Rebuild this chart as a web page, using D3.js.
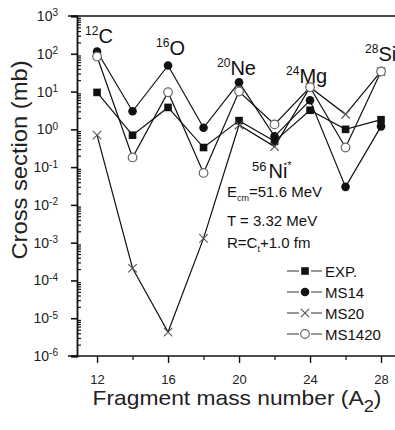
<!DOCTYPE html>
<html>
<head>
<meta charset="utf-8">
<script src="https://cdn.jsdelivr.net/npm/d3@7"></script>
<style>
  body { margin: 0; background: #fff; }
  svg { display: block; font-family: "Liberation Sans", Arial, sans-serif; }
</style>
</head>
<body>
<div id="chart"></div>
<script>
// fragment masses (A2)
const masses = [12, 14, 16, 18, 20, 22, 24, 26, 28];
// cross sections in mb
const expData = [9.5, 0.7, 3.8, 0.33, 1.7, 0.48, 3.2, 1.0, 1.8];
const ms14 = [115, 3.0, 49, 1.1, 17.5, 0.65, 5.9, 0.03, 1.2];
const ms20 = [0.7, 2.1e-4, 4.3e-6, 1.3e-3, 1.3, 0.35, 13, 2.5, 34];
const ms1420 = [85, 0.18, 9.6, 0.07, 10, 1.35, 13, 0.33, 34];

const majorX = [12, 16, 20, 24, 28];
const minorX = [14, 18, 22, 26];
const decades = [-6, -5, -4, -3, -2, -1, 0, 1, 2, 3];

const fragLabels = [
    {a: 12, sup: "12", el: "C", v: 115},
    {a: 16, sup: "16", el: "O", v: 49},
    {a: 20, sup: "20", el: "Ne", v: 17.5},
    {a: 24, sup: "24", el: "Mg", v: 13},
    {a: 28, sup: "28", el: "Si", v: 34}
];

const series = [
    {name: "EXP.", vals: expData, sym: "square"},
    {name: "MS14", vals: ms14, sym: "dot"},
    {name: "MS20", vals: ms20, sym: "cross"},
    {name: "MS1420", vals: ms1420, sym: "circle"}
];

const width = 395, height = 430;

const svg = d3.select("#chart").append("svg")
    .attr("width", width)
    .attr("height", height);

const x = d3.scaleLinear().domain([10.87, 28.9]).range([77, 397]);
const y = d3.scaleLog().domain([1e-6, 1e3]).range([356, 16]);

// marco
svg.append("line").attr("x1", 68).attr("x2", width).attr("y1", y(1e3)).attr("y2", y(1e3))
    .attr("stroke", "#111").attr("stroke-width", 1.6);
svg.append("line").attr("x1", 68).attr("x2", width).attr("y1", y(1e-6)).attr("y2", y(1e-6))
    .attr("stroke", "#111").attr("stroke-width", 1.4);

// eje Y: menores hacia dentro
const minorY = [];
decades.slice(0, -1).forEach(d => {
    for (let k = 2; k < 10; k++) minorY.push(k * Math.pow(10, d));
});
svg.append("g")
    .attr("transform", "translate(" + x(10.87) + ",0)")
    .call(d3.axisRight(y).tickValues(minorY).tickSize(4).tickFormat(""))
    .call(g => g.select(".domain").remove())
    .selectAll("line").attr("stroke", "#111").attr("stroke-width", 1.2);

const yAxis = svg.append("g")
    .attr("transform", "translate(" + x(10.87) + ",0)")
    .call(d3.axisLeft(y).tickValues(decades.map(d => Math.pow(10, d))).tickSize(6).tickPadding(5).tickFormat(""));
yAxis.select(".domain").attr("stroke", "#111").attr("stroke-width", 1.8);
yAxis.selectAll(".tick line").attr("stroke", "#111").attr("stroke-width", 1.6);
yAxis.selectAll(".tick text")
    .attr("font-size", 14).attr("fill", "#222").attr("dx", -8)
    .each(function(d) {
        const t = d3.select(this);
        t.append("tspan").text("10");
        t.append("tspan").attr("dy", "-0.45em").attr("font-size", 10).text(Math.round(Math.log10(d)));
    });

// eje X
const xAxis = svg.append("g")
    .attr("transform", "translate(0," + y(1e-6) + ")")
    .call(d3.axisBottom(x).tickValues(majorX).tickSize(7).tickPadding(12));
xAxis.select(".domain").remove();
xAxis.selectAll(".tick line").attr("stroke", "#111").attr("stroke-width", 1.4);
xAxis.selectAll(".tick text").attr("font-size", 13).attr("fill", "#222");
svg.append("g")
    .attr("transform", "translate(0," + y(1e-6) + ")")
    .call(d3.axisBottom(x).tickValues(minorX).tickSize(4).tickFormat(""))
    .call(g => g.select(".domain").remove())
    .selectAll("line").attr("stroke", "#111").attr("stroke-width", 1.2);

// titulos de ejes
svg.append("text")
    .attr("transform", "translate(27,160) rotate(-90) scale(1.08,1)")
    .attr("text-anchor", "middle")
    .attr("font-size", 22)
    .attr("fill", "#222")
    .text("Cross section (mb)");

const xt = svg.append("text")
    .attr("transform", "translate(237,405) scale(1.14,1)")
    .attr("text-anchor", "middle")
    .attr("font-size", 20)
    .attr("fill", "#222");
xt.append("tspan").text("Fragment mass number (A");
xt.append("tspan").attr("dy", 7).attr("font-size", 16).text("2");
xt.append("tspan").attr("dy", -7).text(")");

// lineas
const line = d3.line()
    .x((d, i) => x(masses[i]))
    .y(d => y(d));

svg.append("g").selectAll("path")
    .data(series)
    .join("path")
    .attr("d", d => line(d.vals))
    .attr("fill", "none")
    .attr("stroke", "#111")
    .attr("stroke-width", 1.2);

// simbolos
function drawMarker(g, sym, cx, cy) {
    if (sym === "square") {
        g.append("rect").attr("x", cx - 3.8).attr("y", cy - 3.8).attr("width", 7.6).attr("height", 7.6)
            .attr("fill", "#111");
    } else if (sym === "dot") {
        g.append("circle").attr("cx", cx).attr("cy", cy).attr("r", 4.3).attr("fill", "#111");
    } else if (sym === "circle") {
        g.append("circle").attr("cx", cx).attr("cy", cy).attr("r", 4.3)
            .attr("fill", "#fff").attr("stroke", "#666").attr("stroke-width", 1.2);
    } else {
        g.append("path")
            .attr("d", d3.symbol(d3.symbolX, 48)())
            .attr("transform", "translate(" + cx + "," + cy + ")")
            .attr("fill", "none").attr("stroke", "#555").attr("stroke-width", 1.1);
    }
}

const marks = svg.append("g");
series.forEach(s => {
    s.vals.forEach((v, i) => drawMarker(marks, s.sym, x(masses[i]), y(v)));
});

// etiquetas de fragmentos
const labOff = {12: [-12, -8], 16: [-12, -10], 20: [-22, -7], 24: [-24, -4], 28: [-16, -10]};
fragLabels.forEach(f => {
    const t = svg.append("text")
        .attr("x", x(f.a) + labOff[f.a][0])
        .attr("y", y(f.v) + labOff[f.a][1])
        .attr("font-size", 20)
        .attr("fill", "#111");
    t.append("tspan").attr("font-size", 12).attr("dy", -8).text(f.sup);
    t.append("tspan").attr("dy", 8).text(f.el);
});

// 56Ni*
const ni = svg.append("text").attr("x", 252).attr("y", 178).attr("font-size", 20).attr("fill", "#111");
ni.append("tspan").attr("font-size", 13).attr("dy", -7).text("56");
ni.append("tspan").attr("dy", 7).attr("dx", 2).text("Ni");
ni.append("tspan").attr("font-size", 11).attr("dy", -9).text("*");

// parametros
const p1 = svg.append("text").attr("x", 227).attr("y", 197).attr("font-size", 15).attr("fill", "#111");
p1.append("tspan").text("E");
p1.append("tspan").attr("font-size", 9).attr("dy", 4).text("cm");
p1.append("tspan").attr("dy", -4).text("=51.6 MeV");
svg.append("text").attr("x", 227).attr("y", 226).attr("font-size", 15).attr("fill", "#111")
    .text("T = 3.32 MeV");
const p3 = svg.append("text").attr("x", 227).attr("y", 248).attr("font-size", 15).attr("fill", "#111");
p3.append("tspan").text("R=C");
p3.append("tspan").attr("font-size", 9).attr("dy", 4).text("t");
p3.append("tspan").attr("dy", -4).text("+1.0 fm");

// leyenda
const leg = svg.append("g");
series.forEach((s, i) => {
    const ly = 271 + i * 21;
    leg.append("line").attr("x1", 287).attr("x2", 299).attr("y1", ly).attr("y2", ly)
        .attr("stroke", "#333").attr("stroke-width", 1);
    leg.append("line").attr("x1", 311).attr("x2", 322).attr("y1", ly).attr("y2", ly)
        .attr("stroke", "#333").attr("stroke-width", 1);
    drawMarker(leg, s.sym, 305, ly);
    leg.append("text").attr("x", 325).attr("y", ly + 5.5)
        .attr("font-size", 15).attr("fill", "#111").text(s.name);
});
</script>
</body>
</html>
